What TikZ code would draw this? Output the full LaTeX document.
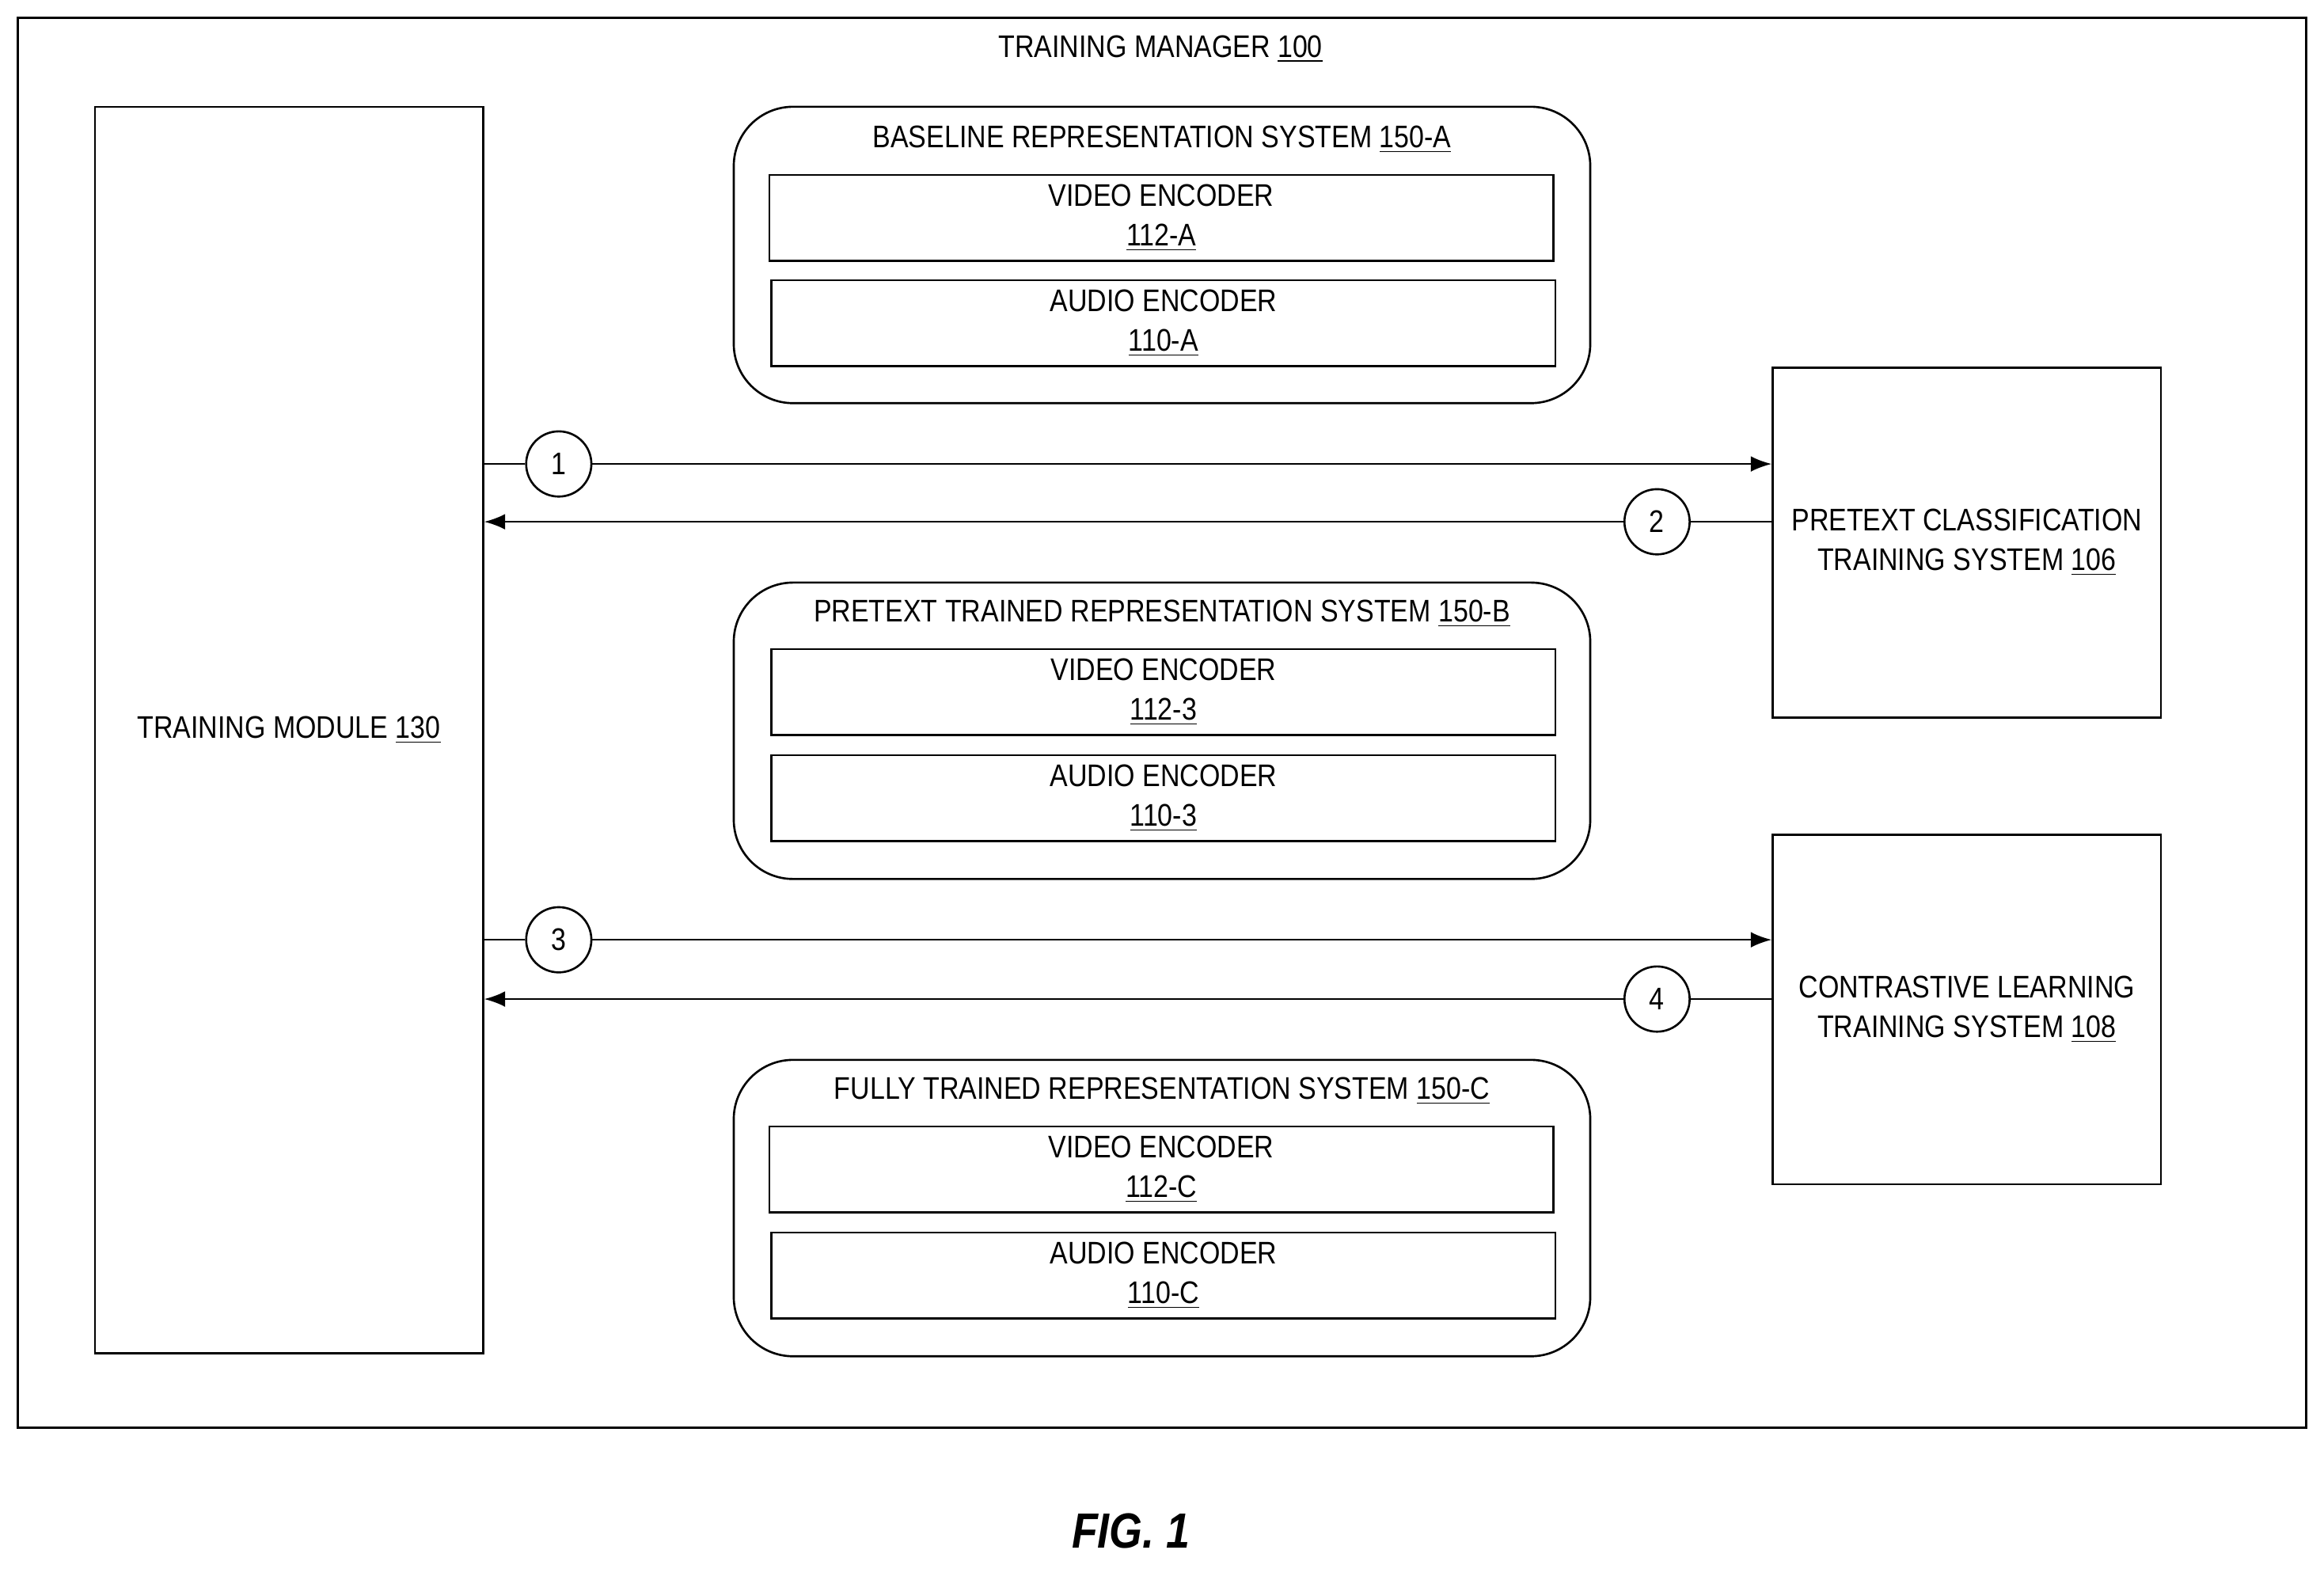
\documentclass[tikz,border=0pt]{standalone}
\usepackage{fontspec}
\setmainfont[FakeStretch=0.86]{Liberation Sans}
\usetikzlibrary{arrows.meta}
\tikzset{
  box/.style={draw,thick,align=center,inner sep=0pt},
  grp/.style={draw,thick,rounded corners=0.8cm,minimum width=11.56cm,minimum height=4cm},
  enc/.style={box,minimum width=10.58cm,minimum height=1.16cm},
  big/.style={box,minimum width=5.24cm,minimum height=4.72cm},
  stepnum/.style={draw,thick,circle,minimum size=0.88cm,inner sep=0pt},
  flow/.style={thick},
}
\newcommand{\un}[1]{\underline{#1}}
\begin{document}
\begin{tikzpicture}[x=0.02cm,y=-0.02cm,font=\fontsize{12}{15.2}\selectfont]
\useasboundingbox (0,0) rectangle (1568,1058);
\draw[thick] (12,12) rectangle (1556,963);
\node (title) at (783,33) {TRAINING MANAGER \un{100}};

\node[box,minimum width=5.24cm,minimum height=16.82cm] (tm) at (195,492.5) {TRAINING MODULE \un{130}};

% representation systems
\node[grp] (ga) at (784,172) {};
\node (ta) at (784,94) {BASELINE REPRESENTATION SYSTEM \un{150-A}};
\node[enc] (va) at (783.5,147) {VIDEO ENCODER\\\un{112-A}};
\node[enc] (aa) at (785,218) {AUDIO ENCODER\\\un{110-A}};

\node[grp] (gb) at (784,493) {};
\node (tb) at (784,414) {PRETEXT TRAINED REPRESENTATION SYSTEM \un{150-B}};
\node[enc] (vb) at (785,467) {VIDEO ENCODER\\\un{112-3}};
\node[enc] (ab) at (785,538.5) {AUDIO ENCODER\\\un{110-3}};

\node[grp] (gc) at (784,815) {};
\node (tc) at (784,736) {FULLY TRAINED REPRESENTATION SYSTEM \un{150-C}};
\node[enc] (vc) at (783.5,789) {VIDEO ENCODER\\\un{112-C}};
\node[enc] (ac) at (785,860.5) {AUDIO ENCODER\\\un{110-C}};

% training systems
\node[big] (pc) at (1327,366) {PRETEXT CLASSIFICATION\\TRAINING SYSTEM \un{106}};
\node[big] (cl) at (1327,681) {CONTRASTIVE LEARNING\\TRAINING SYSTEM \un{108}};

% steps
\node[stepnum] (c1) at (377,313) {1};
\node[stepnum] (c2) at (1118,352) {2};
\node[stepnum] (c3) at (377,634) {3};
\node[stepnum] (c4) at (1118,674) {4};

\draw[flow] (tm.east|-c1) -- (c1);
\draw[flow,-{Latex[length=8pt,width=6pt]}] (c1) -- (pc.west|-c1);
\draw[flow] (pc.west|-c2) -- (c2);
\draw[flow,-{Latex[length=8pt,width=6pt]}] (c2) -- (tm.east|-c2);
\draw[flow] (tm.east|-c3) -- (c3);
\draw[flow,-{Latex[length=8pt,width=6pt]}] (c3) -- (cl.west|-c3);
\draw[flow] (cl.west|-c4) -- (c4);
\draw[flow,-{Latex[length=8pt,width=6pt]}] (c4) -- (tm.east|-c4);

\node[font=\fontsize{19}{21}\selectfont\bfseries\itshape] (fig) at (763,1033) {FIG. 1};
\end{tikzpicture}
\end{document}
